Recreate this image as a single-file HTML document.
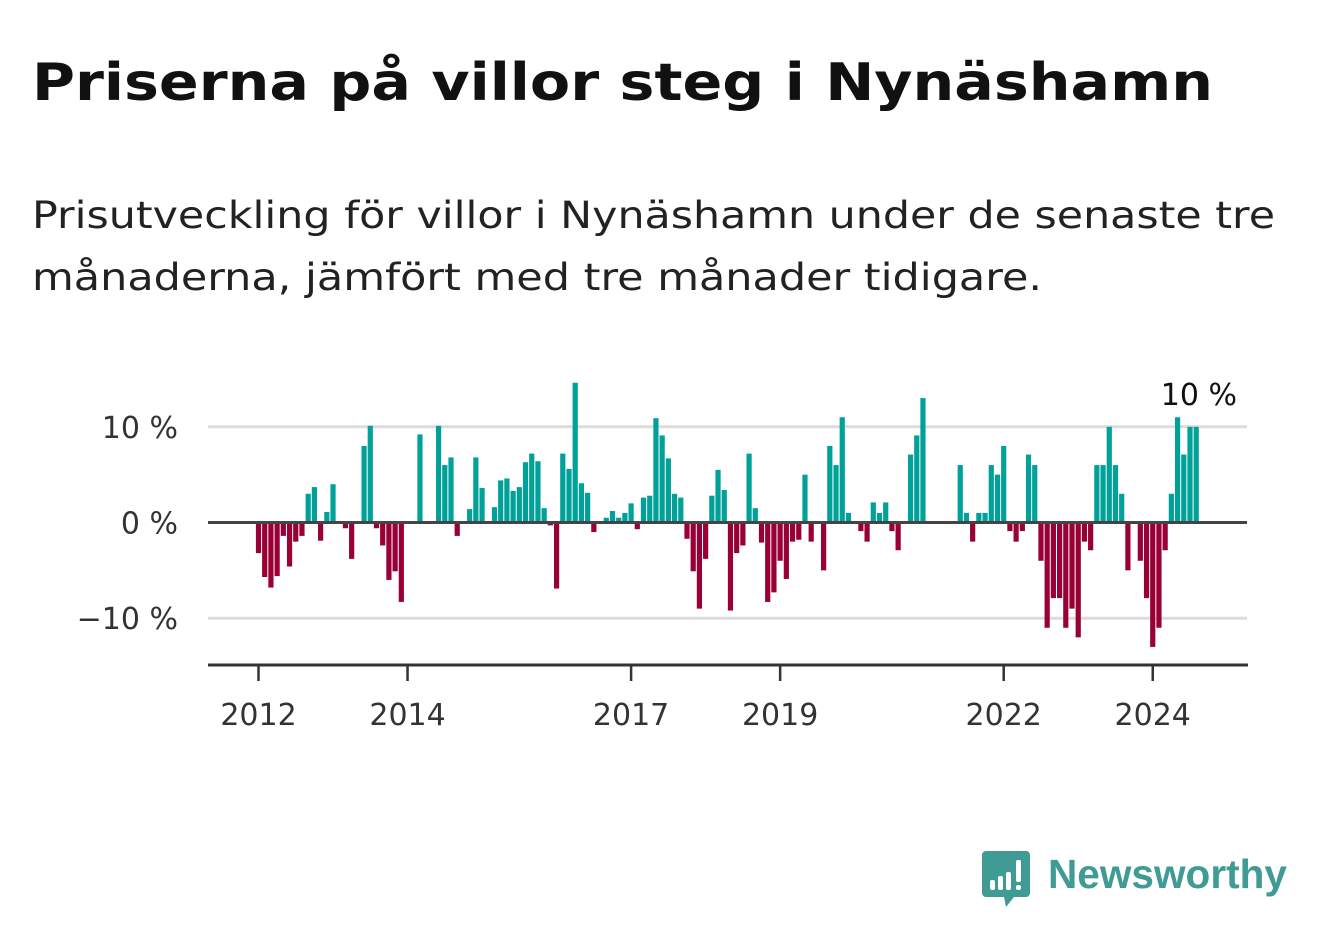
<!DOCTYPE html>
<html><head><meta charset="utf-8">
<style>
html,body{margin:0;padding:0;background:#fff;}
svg{display:block;font-family:"DejaVu Sans","Liberation Sans",sans-serif;}
</style></head>
<body>
<svg id="chart" width="1322" height="939" viewBox="0 0 1322 939" xmlns="http://www.w3.org/2000/svg">
<text x="32" y="100" font-size="52" font-weight="bold" fill="#111" textLength="1181" lengthAdjust="spacingAndGlyphs">Priserna på villor steg i Nynäshamn</text>
<text x="32" y="228" font-size="37" fill="#222" textLength="1243" lengthAdjust="spacingAndGlyphs">Prisutveckling för villor i Nynäshamn under de senaste tre</text>
<text x="32" y="290" font-size="37" fill="#222" textLength="1010" lengthAdjust="spacingAndGlyphs">månaderna, jämfört med tre månader tidigare.</text>
<g id="grid"></g>
<g id="bars"></g>
<g id="axes"></g>
<g>
<path d="M986 851 h40 a4 4 0 0 1 4 4 v38 a4 4 0 0 1 -4 4 h-12 l-8 10 l-2 -10 h-18 a4 4 0 0 1 -4 -4 v-38 a4 4 0 0 1 4 -4z" fill="#3f9b93"/>
<rect x="990" y="880" width="5" height="10" rx="2" fill="#fff"/>
<rect x="998" y="876" width="5" height="14" rx="2" fill="#fff"/>
<rect x="1006" y="872" width="5" height="18" rx="2" fill="#fff"/>
<rect x="1016" y="860" width="5" height="22" rx="2" fill="#fff"/>
<rect x="1016" y="885" width="5" height="5" rx="2" fill="#fff"/>
<text x="1048" y="888" font-size="41" font-weight="bold" fill="#3f9b93" textLength="239" lengthAdjust="spacingAndGlyphs" font-family="Liberation Sans, sans-serif">Newsworthy</text>
</g>
</svg>
<script>
const startYear = 2012;
const values = [
-3.2,-5.7,-6.8,-5.6,-1.4,-4.6,-2.0,-1.4,3.0,3.7,-1.9,1.1,
4.0,0,-0.6,-3.8,0,8.0,10.1,-0.6,-2.4,-6.0,-5.1,-8.3,
0,0,9.2,0,0,10.1,6.0,6.8,-1.4,0,1.4,6.8,
3.6,0,1.6,4.4,4.6,3.3,3.7,6.3,7.2,6.4,1.5,-0.3,
-6.9,7.2,5.6,14.6,4.1,3.1,-1.0,0,0.5,1.2,0.5,1.0,
2.0,-0.7,2.6,2.8,10.9,9.1,6.7,3.0,2.6,-1.7,-5.1,-9.0,
-3.8,2.8,5.5,3.4,-9.2,-3.2,-2.4,7.2,1.5,-2.1,-8.3,-7.3,
-4.0,-5.9,-2.0,-1.8,5.0,-2.0,0,-5.0,8.0,6.0,11.0,1.0,
0,-0.9,-2.0,2.1,1.0,2.1,-0.9,-2.9,0,7.1,9.1,13.0,
0,0,0,0,0,6.0,1.0,-2.0,1.0,1.0,6.0,5.0,
8.0,-0.9,-2.0,-0.9,7.1,6.0,-4.0,-11.0,-7.9,-7.9,-11.0,-9.0,
-12.0,-2.0,-2.9,6.0,6.0,10.0,6.0,3.0,-5.0,0,-4.0,-7.9,
-13.0,-11.0,-2.9,3.0,11.0,7.1,10.0,10.0
];
const yTicks = [10, 0, -10];
const yTickLabels = ["10 %", "0 %", "\u221210 %"];
const xTickYears = [2012, 2014, 2017, 2019, 2022, 2024];
const lastLabel = "10 %";

const NS = "http://www.w3.org/2000/svg";
const X0 = 258.5, PX_MONTH = 6.21;
const Y0 = 522.5, PX_PCT = 9.57;
const xScale = i => X0 + PX_MONTH * i;
const xYear = y => X0 + PX_MONTH * 12 * (y - startYear);
const yScale = v => Y0 - PX_PCT * v;
function mk(tag, attrs, parent){const e=document.createElementNS(NS,tag);for(const k in attrs)e.setAttribute(k,attrs[k]);parent.appendChild(e);return e;}
const grid=document.getElementById('grid'), bars=document.getElementById('bars'), axes=document.getElementById('axes');
yTicks.forEach((t,k)=>{
  if(t!==0){const l=mk('line',{x1:208,x2:1247,y1:yScale(t),y2:yScale(t),stroke:'#dcdcdc','stroke-width':3},grid);
  
  }
  const tx=mk('text',{x:178,y:yScale(t)+11,'text-anchor':'end','font-size':30,fill:'#333'},axes);
  tx.textContent=yTickLabels[k];
  
  
});
values.forEach((v,i)=>{
  if(v===0)return;
  const y=v>0?yScale(v):Y0, h=Math.abs(yScale(v)-Y0);
  const r=mk('rect',{x:xScale(i)-2.6,y:y,width:5.2,height:h,fill:v>0?'#00a198':'#990036'},bars);
  
  
});
const zl=mk('line',{x1:208,x2:1247,y1:Y0,y2:Y0,stroke:'#444','stroke-width':3},axes);


const al=mk('line',{x1:208,x2:1248,y1:665,y2:665,stroke:'#333','stroke-width':3},axes);


xTickYears.forEach(yr=>{
  const x=xYear(yr);
  const t=mk('line',{x1:x,x2:x,y1:665,y2:681,stroke:'#333','stroke-width':2.5},axes);
  
  
  const tx=mk('text',{x:x,y:725,'text-anchor':'middle','font-size':30,fill:'#333'},axes);
  tx.textContent=String(yr);
  
  
});
const ll=mk('text',{x:1237,y:405,'text-anchor':'end','font-size':30,fill:'#111'},axes);
ll.textContent=lastLabel;


</script>
</body></html>
